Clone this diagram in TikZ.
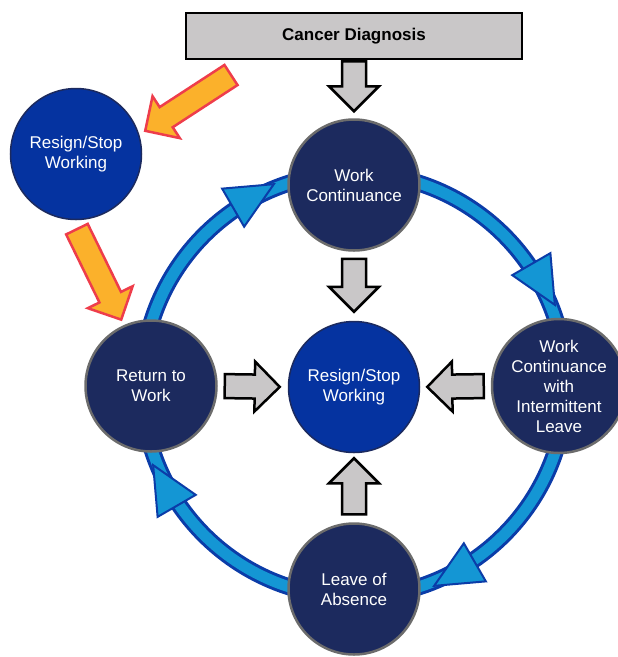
\documentclass[tikz,border=0pt]{standalone}
\usepackage{fontspec}
\setmainfont{Liberation Sans}
\usetikzlibrary{calc}

\definecolor{navy}{HTML}{1C2A5E}
\definecolor{royal}{HTML}{0533A0}
\definecolor{ringdark}{HTML}{0B3CA8}
\definecolor{ringlight}{HTML}{1496D4}
\definecolor{boxgray}{HTML}{C9C7C8}
\definecolor{rimgray}{HTML}{6C6C6C}
\definecolor{amber}{HTML}{FBB12B}
\definecolor{rimred}{HTML}{EE3D4B}

\tikzset{
    stage/.style={
        circle,
        draw=rimgray,
        line width=2.5pt,
        fill=navy,
        minimum size=131pt,
        inner sep=0pt,
        text=white,
        align=center,
        font=\fontsize{17}{20}\selectfont
    },
    exitstage/.style={
        stage,
        draw=navy,
        line width=1.5pt,
        fill=royal
    },
    diagbox/.style={
        draw=black,
        line width=2.5pt,
        fill=boxgray,
        minimum width=336pt,
        minimum height=46pt,
        font=\fontsize{17}{20}\selectfont\bfseries
    },
    grayarrow/.style={draw=black, line width=2.5pt, fill=boxgray},
    orangearrow/.style={draw=rimred, line width=2.5pt, fill=amber},
    ringhead/.style={draw=ringdark, line width=2pt, fill=ringlight}
}

% fat outlined arrow: [style]{from}{to}{gap at start}{gap at end}
\newcommand{\blockarrow}[5][]{%
  \coordinate (ba-a) at ($(#2)!#4!(#3)$);
  \coordinate (ba-b) at ($(#3)!#5!(#2)$);
  \coordinate (ba-h) at ($(ba-b)!25pt!(ba-a)$);
  \draw[#1] ($(ba-a)!12pt!90:(ba-b)$) -- ($(ba-h)!12pt!90:(ba-b)$)
    -- ($(ba-h)!25pt!90:(ba-b)$) -- (ba-b)
    -- ($(ba-h)!25pt!-90:(ba-b)$) -- ($(ba-h)!12pt!-90:(ba-b)$)
    -- ($(ba-a)!12pt!-90:(ba-b)$) -- cycle;
}

\begin{document}
\begin{tikzpicture}[x=1pt, y=-1pt]
  \useasboundingbox (0,0) rectangle (618,657);

  % Cycle ring behind the stages
  \coordinate (ring) at (354,385);
  \draw[ringdark, line width=17pt] (ring) circle[radius=212];
  \draw[ringlight, line width=11pt] (ring) circle[radius=212];
  \foreach \a in {-120,-30,60,150}
    \draw[ringhead] ($(ring)+(\a:214)+(\a+90:31)$)
      -- ($(ring)+(\a:214)+(\a+90:-16)+(\a:22)$)
      -- ($(ring)+(\a:214)+(\a+90:-16)+(\a:-22)$) -- cycle;

  % Diagnosis and the work stages
  \node[diagbox] (diag) at (354,36) {Cancer Diagnosis};
  \node[stage] (wc) at (354,185) {Work\\Continuance};
  \node[exitstage] (cen) at (354,387) {Resign/Stop\\Working};
  \node[stage] (rtw) at (151,386) {Return to\\Work};
  \node[stage, minimum size=134pt] (wcil) at (559,386) {Work\\Continuance\\with\\Intermittent\\Leave};
  \node[stage] (loa) at (354,589) {Leave of\\Absence};
  \node[exitstage] (quit) at (76,154) {Resign/Stop\\Working};

  % Gray arrows
  \blockarrow[grayarrow]{diag.south}{wc.north}{1pt}{7pt}
  \blockarrow[grayarrow]{wc.south}{cen.north}{7pt}{9pt}
  \blockarrow[grayarrow]{rtw.east}{cen.west}{7pt}{8pt}
  \blockarrow[grayarrow]{wcil.west}{cen.east}{7pt}{7pt}
  \blockarrow[grayarrow]{loa.north}{cen.south}{8pt}{5pt}

  % Orange arrows
  \coordinate (fromdiag) at (231,75);
  \blockarrow[orangearrow]{fromdiag}{quit.17}{0pt}{7pt}
  \blockarrow[orangearrow]{quit.-93}{rtw.114}{10pt}{6pt}
\end{tikzpicture}
\end{document}
